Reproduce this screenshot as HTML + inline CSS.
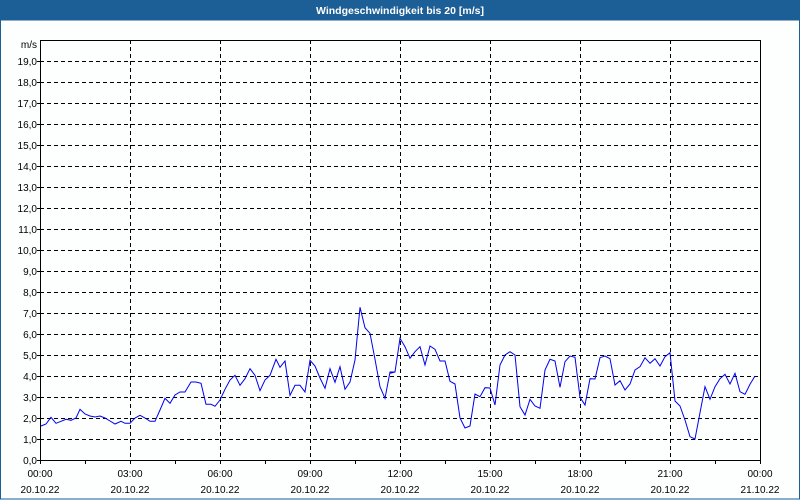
<!DOCTYPE html>
<html><head><meta charset="utf-8"><style>
html,body{margin:0;padding:0;background:#fff}
svg{display:block}
text{font-family:"Liberation Sans",sans-serif;font-size:10px;fill:#000}
</style></head><body>
<svg id="s" width="800" height="500" xmlns="http://www.w3.org/2000/svg">
<rect x="0" y="0" width="800" height="500" fill="#fdfefe"/>
<rect x="0" y="0" width="800" height="20" fill="#1c5e96"/>
<rect x="0.5" y="20" width="799" height="479" fill="none" stroke="#1c5e96" stroke-width="1"/>
<text x="400" y="14" text-anchor="middle" style="font-weight:bold;fill:#fff;font-size:10.5px">Windgeschwindigkeit bis 20 [m/s]</text>
<g id="grid" stroke="#000" stroke-width="1" stroke-dasharray="4,3"></g>
<rect x="40.5" y="40.5" width="720" height="420" fill="none" stroke="#000" stroke-width="1"/>
<g id="ticks" stroke="#000" stroke-width="1"></g>
<polyline id="line" fill="none" stroke="#0000ee" stroke-width="1"/>
<g text-anchor="end">
<text x="37" y="48">m/s</text>
<text x="37" y="464">0,0</text><text x="37" y="443">1,0</text><text x="37" y="422">2,0</text><text x="37" y="401">3,0</text><text x="37" y="380">4,0</text><text x="37" y="359">5,0</text><text x="37" y="338">6,0</text><text x="37" y="317">7,0</text><text x="37" y="296">8,0</text><text x="37" y="275">9,0</text><text x="37" y="254">10,0</text><text x="37" y="233">11,0</text><text x="37" y="212">12,0</text><text x="37" y="191">13,0</text><text x="37" y="170">14,0</text><text x="37" y="149">15,0</text><text x="37" y="128">16,0</text><text x="37" y="107">17,0</text><text x="37" y="86">18,0</text><text x="37" y="65">19,0</text>
</g>
<g text-anchor="middle">
<text x="40" y="477">00:00</text><text x="40" y="493">20.10.22</text>
<text x="130" y="477">03:00</text><text x="130" y="493">20.10.22</text>
<text x="220" y="477">06:00</text><text x="220" y="493">20.10.22</text>
<text x="310" y="477">09:00</text><text x="310" y="493">20.10.22</text>
<text x="400" y="477">12:00</text><text x="400" y="493">20.10.22</text>
<text x="490" y="477">15:00</text><text x="490" y="493">20.10.22</text>
<text x="580" y="477">18:00</text><text x="580" y="493">20.10.22</text>
<text x="670" y="477">21:00</text><text x="670" y="493">20.10.22</text>
<text x="760" y="477">00:00</text><text x="760" y="493">21.10.22</text>
</g>
</svg>
<script>
var NS="http://www.w3.org/2000/svg";
function L(g,x1,y1,x2,y2){var l=document.createElementNS(NS,"line");l.setAttribute("x1",x1);l.setAttribute("y1",y1);l.setAttribute("x2",x2);l.setAttribute("y2",y2);g.appendChild(l);}
var g=document.getElementById("grid"),t=document.getElementById("ticks");
for(var i=1;i<20;i++){var y=460-21*i+0.5;L(g,40,y,760,y);}
for(var k=1;k<8;k++){var x=40+90*k+0.5;L(g,x,40,x,460);}
for(var k=0;k<=16;k++){var x=40+45*k+0.5;L(t,x,460,x,464);}
for(var i=0;i<20;i++){var y=460-21*i+0.5;L(t,37,y,40,y);}
var a=[[33,408],[48,402],[63,382],[78,400],[93,394],[108,388],[123,391],[138,384],[150,358],[165,372],[180,378],[195,381],[210,378],[225,384],[240,393],[255,402],[273,394],[285,400],[300,400],[315,384],[330,376],[345,384],[360,394],[375,394],[390,360],[405,325],[420,340],[435,315],[450,306],[465,306],[483,276],[498,276],[513,280],[528,343],[543,343],[555,349],[570,330],[585,298],[600,270],[615,256],[630,286],[645,266],[660,236],[675,256],[690,302],[705,270],[720,256],[738,208],[750,232],[765,213],[780,316],[795,286],[810,286],[825,306],[840,211],[855,228],[870,264],[885,295],[900,236],[915,277],[930,230],[945,298],[960,276],[975,210],[990,52],[1005,113],[1020,130],[1035,208],[1050,290],[1065,325],[1080,246],[1095,246]];
var b=[[0,250],[15,246],[30,145],[45,170],[60,205],[75,185],[90,170],[105,225],[120,168],[135,178],[150,213],[165,213],[180,274],[195,282],[210,384],[225,414],[240,408],[255,312],[270,320],[285,293],[300,294],[315,345],[330,225],[345,195],[360,185],[375,195],[390,350],[405,375],[420,328],[435,348],[450,355],[465,240],[480,208],[495,213],[510,292],[525,215],[540,198],[555,202],[570,322],[585,345],[600,266],[615,267],[630,203],[645,198],[660,206],[675,285],[690,272],[705,300],[720,282],[735,240],[750,230],[765,203],[780,220],[795,206],[810,228],[825,200],[840,188],[855,333],[870,348],[885,390],[900,440],[915,447],[930,368],[945,290],[960,328],[975,290],[990,266],[1005,253],[1020,282],[1035,250],[1050,305],[1065,313],[1080,283],[1095,258]];
var p=[];
a.forEach(function(q){p.push((30+q[0]/3).toFixed(1)+","+(290+q[1]/3).toFixed(1));});
b.forEach(function(q){p.push((390+q[0]/3).toFixed(1)+","+(290+q[1]/3).toFixed(1));});
document.getElementById("line").setAttribute("points",p.join(" "));
</script>
</body></html>
